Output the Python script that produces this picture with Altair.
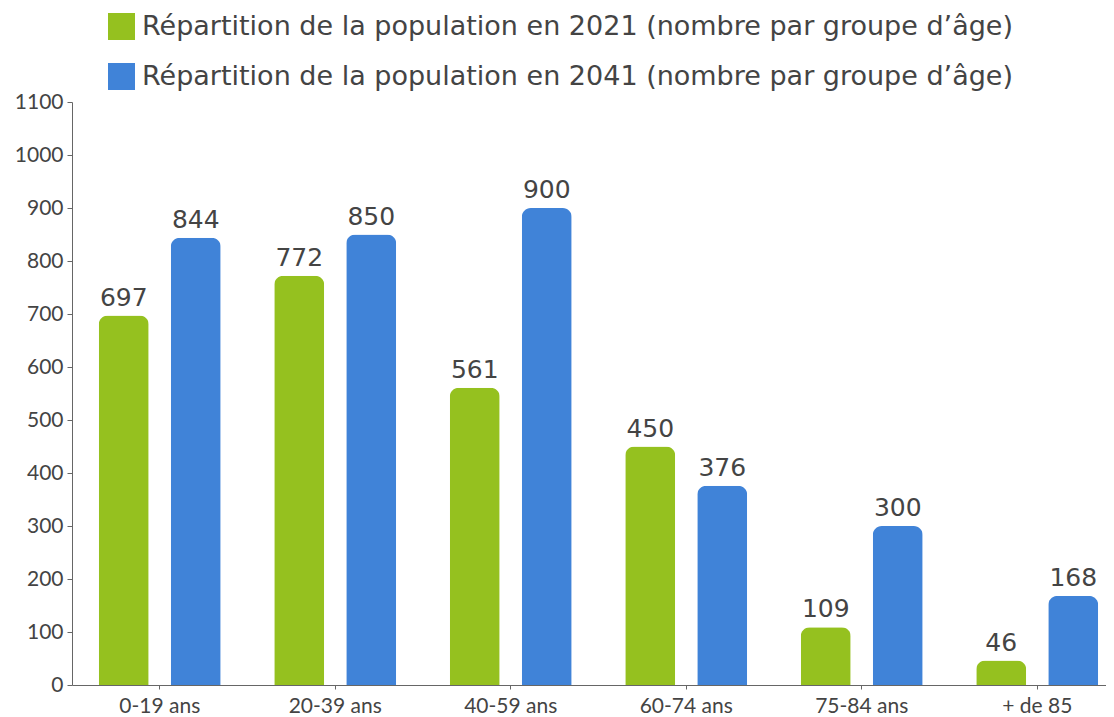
import altair as alt
import pandas as pd

categories = ["0-19 ans", "20-39 ans", "40-59 ans", "60-74 ans", "75-84 ans", "+ de 85"]
pop_2021 = [697, 772, 561, 450, 109, 46]
pop_2041 = [844, 850, 900, 376, 300, 168]
series = [
    "Répartition de la population en 2021 (nombre par groupe d’âge)",
    "Répartition de la population en 2041 (nombre par groupe d’âge)",
]
colors = ["#95c11f", "#4083d8"]
y_ticks = list(range(0, 1101, 100))

rows = []
for i, c in enumerate(categories):
    rows.append({"cat": c, "serie": series[0], "val": pop_2021[i]})
    rows.append({"cat": c, "serie": series[1], "val": pop_2041[i]})
df = pd.DataFrame(rows)

x_enc = alt.X("cat:N", sort=categories, title=None,
              scale=alt.Scale(paddingInner=0, paddingOuter=0, range=[0, 1053]),
              axis=alt.Axis(labelAngle=0, labelFont="Lato", labelFontSize=21,
                            labelColor="#444", domainColor="#666", tickColor="#666",
                            tickSize=4, labelPadding=6, grid=False))
xoff = alt.XOffset("serie:N", sort=series,
                   scale=alt.Scale(paddingInner=0.3056, paddingOuter=0.3715))

bars = alt.Chart(df).mark_bar(cornerRadiusTopLeft=9, cornerRadiusTopRight=9).encode(
    x=x_enc,
    xOffset=xoff,
    y=alt.Y("val:Q", title=None,
            scale=alt.Scale(domain=[0, 1100], nice=False),
            axis=alt.Axis(values=y_ticks, format="d", labelFont="Lato", labelFontSize=21,
                          labelColor="#444", domainColor="#666", tickColor="#666",
                          tickSize=5, labelPadding=4, grid=False)),
    color=alt.Color("serie:N", sort=series,
                    scale=alt.Scale(domain=series, range=colors),
                    legend=alt.Legend(title=None, orient="none", legendX=36, legendY=-89,
                                      symbolType="square", symbolSize=729,
                                      symbolStrokeWidth=0, symbolOpacity=1,
                                      labelFont="DejaVu Sans", labelFontSize=27,
                                      labelColor="#444", labelLimit=2000,
                                      rowPadding=22, symbolOffset=0,
                                      padding=0, labelOffset=7)),
)

labels = alt.Chart(df).mark_text(baseline="alphabetic", dy=-10, font="DejaVu Sans",
                                  fontSize=25, color="#444").encode(
    x=alt.X("cat:N", sort=categories),
    xOffset=xoff,
    y="val:Q",
    text="val:Q",
)

chart = alt.layer(bars, labels).properties(
    width=1034, height=583,
    autosize=alt.AutoSizeParams(type="none"),
    padding={"left": 64, "top": 94, "right": 0, "bottom": 30},
).configure_view(stroke=None)

chart.save("out.html", embed_options={"renderer": "svg", "actions": False})
